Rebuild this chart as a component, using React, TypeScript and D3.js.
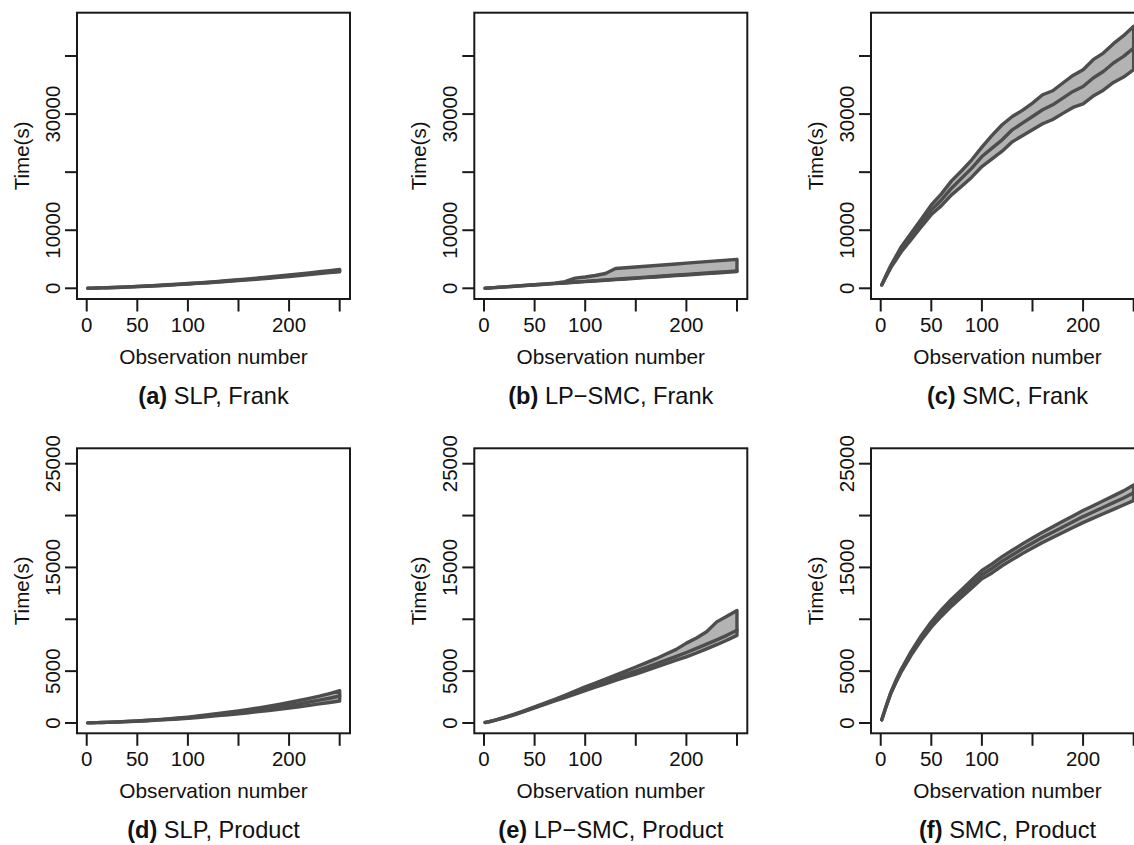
import React from "react";
import * as d3 from "d3";

// Observation numbers at which the curves were read
const OBS = [1, 5, 10, 15, 20, 30, 40, 50, 60, 70, 80, 90, 100, 110, 120, 130, 140, 150, 160, 170, 180, 190, 200, 210, 220, 230, 240, 250];

// (a) SLP, Frank
const A_MEAN = [10, 25, 45, 70, 100, 160, 230, 310, 390, 480, 570, 670, 780, 890, 1010, 1130, 1260, 1400, 1540, 1690, 1840, 2000, 2160, 2330, 2500, 2680, 2860, 3040];
const A_UPPER = [10, 27, 48, 75, 107, 170, 245, 330, 415, 510, 605, 710, 825, 940, 1070, 1195, 1335, 1480, 1630, 1790, 1950, 2120, 2290, 2470, 2650, 2840, 3030, 3230];
const A_LOWER = [10, 23, 42, 65, 93, 150, 215, 290, 365, 450, 535, 630, 735, 840, 950, 1065, 1185, 1320, 1450, 1590, 1730, 1880, 2030, 2190, 2350, 2520, 2690, 2860];

// (b) LP-SMC, Frank
const B_MEAN = [12, 60, 120, 180, 240, 360, 480, 600, 720, 840, 960, 1080, 1200, 1320, 1440, 1560, 1680, 1800, 1920, 2040, 2160, 2280, 2400, 2520, 2640, 2760, 2880, 3000];
const B_UPPER = [12, 62, 123, 185, 246, 370, 495, 620, 745, 870, 1150, 1750, 1950, 2200, 2550, 3400, 3530, 3665, 3800, 3930, 4060, 4195, 4330, 4460, 4590, 4725, 4860, 4990];
const B_LOWER = [12, 56, 114, 172, 230, 345, 460, 575, 690, 805, 920, 1035, 1150, 1265, 1380, 1495, 1610, 1725, 1840, 1955, 2070, 2185, 2300, 2415, 2530, 2645, 2760, 2875];

// (c) SMC, Frank
const C_MEAN = [570, 2000, 3730, 5170, 6600, 8900, 11200, 13500, 15220, 17240, 18970, 20690, 22690, 24140, 25570, 27290, 28450, 29590, 30740, 31600, 32760, 33900, 34760, 36210, 37340, 38790, 39930, 41380];
const C_UPPER = [570, 2120, 3960, 5520, 7060, 9480, 11890, 14360, 16260, 18500, 20240, 22130, 24300, 26330, 28160, 29590, 30640, 31890, 33330, 34020, 35350, 36660, 37640, 39370, 40500, 42130, 43500, 45120];
const C_LOWER = [570, 1890, 3560, 4880, 6200, 8380, 10570, 12700, 14240, 16090, 17590, 19140, 20970, 22300, 23620, 25220, 26270, 27290, 28330, 29070, 30120, 31140, 31770, 33110, 34120, 35460, 36370, 37640];

// (d) SLP, Product
const D_MEAN = [10, 20, 35, 50, 65, 100, 140, 190, 240, 300, 360, 430, 510, 600, 700, 800, 910, 1020, 1140, 1270, 1400, 1540, 1690, 1850, 2020, 2200, 2390, 2600];
const D_UPPER = [10, 21, 37, 53, 69, 107, 151, 205, 260, 330, 400, 480, 570, 675, 790, 910, 1040, 1170, 1310, 1460, 1620, 1800, 1980, 2170, 2370, 2590, 2840, 3110];
const D_LOWER = [10, 19, 33, 47, 61, 93, 130, 175, 220, 273, 326, 388, 458, 536, 622, 708, 800, 893, 993, 1100, 1210, 1320, 1440, 1570, 1700, 1840, 1980, 2120];

// (e) LP-SMC, Product
const E_MEAN = [50, 120, 250, 380, 520, 820, 1150, 1500, 1850, 2200, 2550, 2920, 3300, 3640, 3980, 4320, 4660, 5000, 5350, 5700, 6060, 6420, 6800, 7200, 7600, 8020, 8450, 8950];
const E_UPPER = [50, 125, 260, 395, 540, 850, 1190, 1550, 1910, 2290, 2680, 3080, 3480, 3850, 4230, 4620, 5000, 5400, 5800, 6200, 6650, 7100, 7700, 8200, 8800, 9750, 10300, 10850];
const E_LOWER = [50, 115, 240, 365, 500, 790, 1110, 1450, 1800, 2130, 2450, 2790, 3130, 3450, 3780, 4100, 4420, 4720, 5050, 5380, 5720, 6060, 6380, 6750, 7150, 7550, 7980, 8450];

// (f) SMC, Product
const F_MEAN = [300, 1500, 2900, 4000, 5000, 6700, 8200, 9500, 10600, 11600, 12500, 13400, 14300, 14900, 15600, 16200, 16800, 17350, 17900, 18400, 18900, 19400, 19900, 20350, 20800, 21250, 21700, 22200];
const F_UPPER = [300, 1530, 2960, 4100, 5130, 6880, 8420, 9760, 10900, 11930, 12860, 13780, 14700, 15330, 16040, 16650, 17270, 17830, 18400, 18920, 19440, 19960, 20480, 20950, 21420, 21900, 22380, 22950];
const F_LOWER = [300, 1470, 2840, 3900, 4870, 6520, 7980, 9240, 10300, 11270, 12140, 13020, 13900, 14470, 15160, 15750, 16330, 16870, 17400, 17880, 18360, 18840, 19320, 19750, 20180, 20600, 21020, 21450];

// Axis ticks
const X_TICKS = [0, 50, 100, 150, 200, 250];
const X_LABELS = [0, 50, 100, 200];
const Y_TICKS_TOP = [0, 10000, 20000, 30000, 40000];
const Y_LABELS_TOP = [0, 10000, 30000];
const Y_TICKS_BOTTOM = [0, 5000, 10000, 15000, 20000, 25000];
const Y_LABELS_BOTTOM = [0, 5000, 15000, 25000];

const PANELS = [
  { tag: "(a)", title: " SLP, Frank", row: 0, col: 0, mean: A_MEAN, upper: A_UPPER, lower: A_LOWER },
  { tag: "(b)", title: " LP\u2212SMC, Frank", row: 0, col: 1, mean: B_MEAN, upper: B_UPPER, lower: B_LOWER },
  { tag: "(c)", title: " SMC, Frank", row: 0, col: 2, mean: C_MEAN, upper: C_UPPER, lower: C_LOWER },
  { tag: "(d)", title: " SLP, Product", row: 1, col: 0, mean: D_MEAN, upper: D_UPPER, lower: D_LOWER },
  { tag: "(e)", title: " LP\u2212SMC, Product", row: 1, col: 1, mean: E_MEAN, upper: E_UPPER, lower: E_LOWER },
  { tag: "(f)", title: " SMC, Product", row: 1, col: 2, mean: F_MEAN, upper: F_UPPER, lower: F_LOWER },
];

const ROWS = [
  { top: 12.7, height: 286.3, domain: [-1843, 47460], ticks: Y_TICKS_TOP, labels: Y_LABELS_TOP },
  { top: 448.3, height: 285, domain: [-993, 26485], ticks: Y_TICKS_BOTTOM, labels: Y_LABELS_BOTTOM },
];
const COL_LEFT = [77, 474.3, 871];
const BOX_W = 273;
const X_DOMAIN = [-9.6, 260.2];

const FONT = "'Liberation Sans', Arial, Helvetica, sans-serif";
const LINE = "#4d4d4d";
const FILL = "#b3b3b3";
const AXIS = "#1a1a1a";
const LW = 3.4;

function Panel({ p }: { p: (typeof PANELS)[number] }) {
  const row = ROWS[p.row];
  const left = COL_LEFT[p.col];
  const top = row.top;
  const bottom = row.top + row.height;
  const x = d3.scaleLinear().domain(X_DOMAIN).range([left, left + BOX_W]);
  const y = d3.scaleLinear().domain(row.domain).range([bottom, top]);

  const idx = OBS.map((_, i) => i);
  const area = d3
    .area<number>()
    .x((i) => x(OBS[i]))
    .y0((i) => y(p.lower[i]))
    .y1((i) => y(p.upper[i]));
  const line = d3
    .line<number>()
    .x((i) => x(OBS[i]))
    .y((i) => y(p.mean[i]));

  const poly =
    "M" +
    idx.map((i) => `${x(OBS[i])},${y(p.upper[i])}`).join("L") +
    "L" +
    idx
      .slice()
      .reverse()
      .map((i) => `${x(OBS[i])},${y(p.lower[i])}`)
      .join("L") +
    "Z";

  const cx = left + BOX_W / 2;
  const cy = (top + bottom) / 2;

  return (
    <g>
      <path d={area(idx) || ""} fill={FILL} stroke="none" />
      <path d={poly} fill="none" stroke={LINE} strokeWidth={LW} strokeLinejoin="round" strokeLinecap="round" />
      <path d={line(idx) || ""} fill="none" stroke={LINE} strokeWidth={LW} strokeLinejoin="round" strokeLinecap="round" />
      <rect x={left} y={top} width={BOX_W} height={row.height} fill="none" stroke={AXIS} strokeWidth={2} />
      {X_TICKS.map((t) => (
        <line key={"xt" + t} x1={x(t)} x2={x(t)} y1={bottom} y2={bottom + 12.5} stroke={AXIS} strokeWidth={2} />
      ))}
      {X_LABELS.map((t) => (
        <text key={"xl" + t} x={x(t)} y={bottom + 33} textAnchor="middle" fontSize={20.5} fontFamily={FONT} fill="#111">
          {t}
        </text>
      ))}
      {row.ticks.map((t) => (
        <line key={"yt" + t} x1={left} x2={left - 12} y1={y(t)} y2={y(t)} stroke={AXIS} strokeWidth={2} />
      ))}
      {row.labels.map((t) => (
        <text
          key={"yl" + t}
          transform={`translate(${left - 17},${y(t)}) rotate(-90)`}
          textAnchor="middle"
          fontSize={20.5}
          fontFamily={FONT}
          fill="#111"
        >
          {t}
        </text>
      ))}
      <text
        transform={`translate(${left - 48},${cy}) rotate(-90)`}
        textAnchor="middle"
        fontSize={20.5}
        fontFamily={FONT}
        fill="#111"
      >
        Time(s)
      </text>
      <text x={cx} y={bottom + 65} textAnchor="middle" fontSize={20.8} fontFamily={FONT} fill="#111">
        Observation number
      </text>
      <text x={cx} y={bottom + 104.5} textAnchor="middle" fontSize={23.6} fontFamily={FONT} fill="#111">
        <tspan fontWeight="bold">{p.tag}</tspan>
        {p.title}
      </text>
    </g>
  );
}

export default function App() {
  return (
    <svg
      width={1134}
      height={845}
      viewBox="0 0 1134 845"
      style={{ position: "absolute", left: 0, top: 0, background: "#fff" }}
    >
      <rect x={0} y={0} width={1134} height={845} fill="#fff" />
      {PANELS.map((p) => (
        <Panel key={p.tag} p={p} />
      ))}
    </svg>
  );
}
